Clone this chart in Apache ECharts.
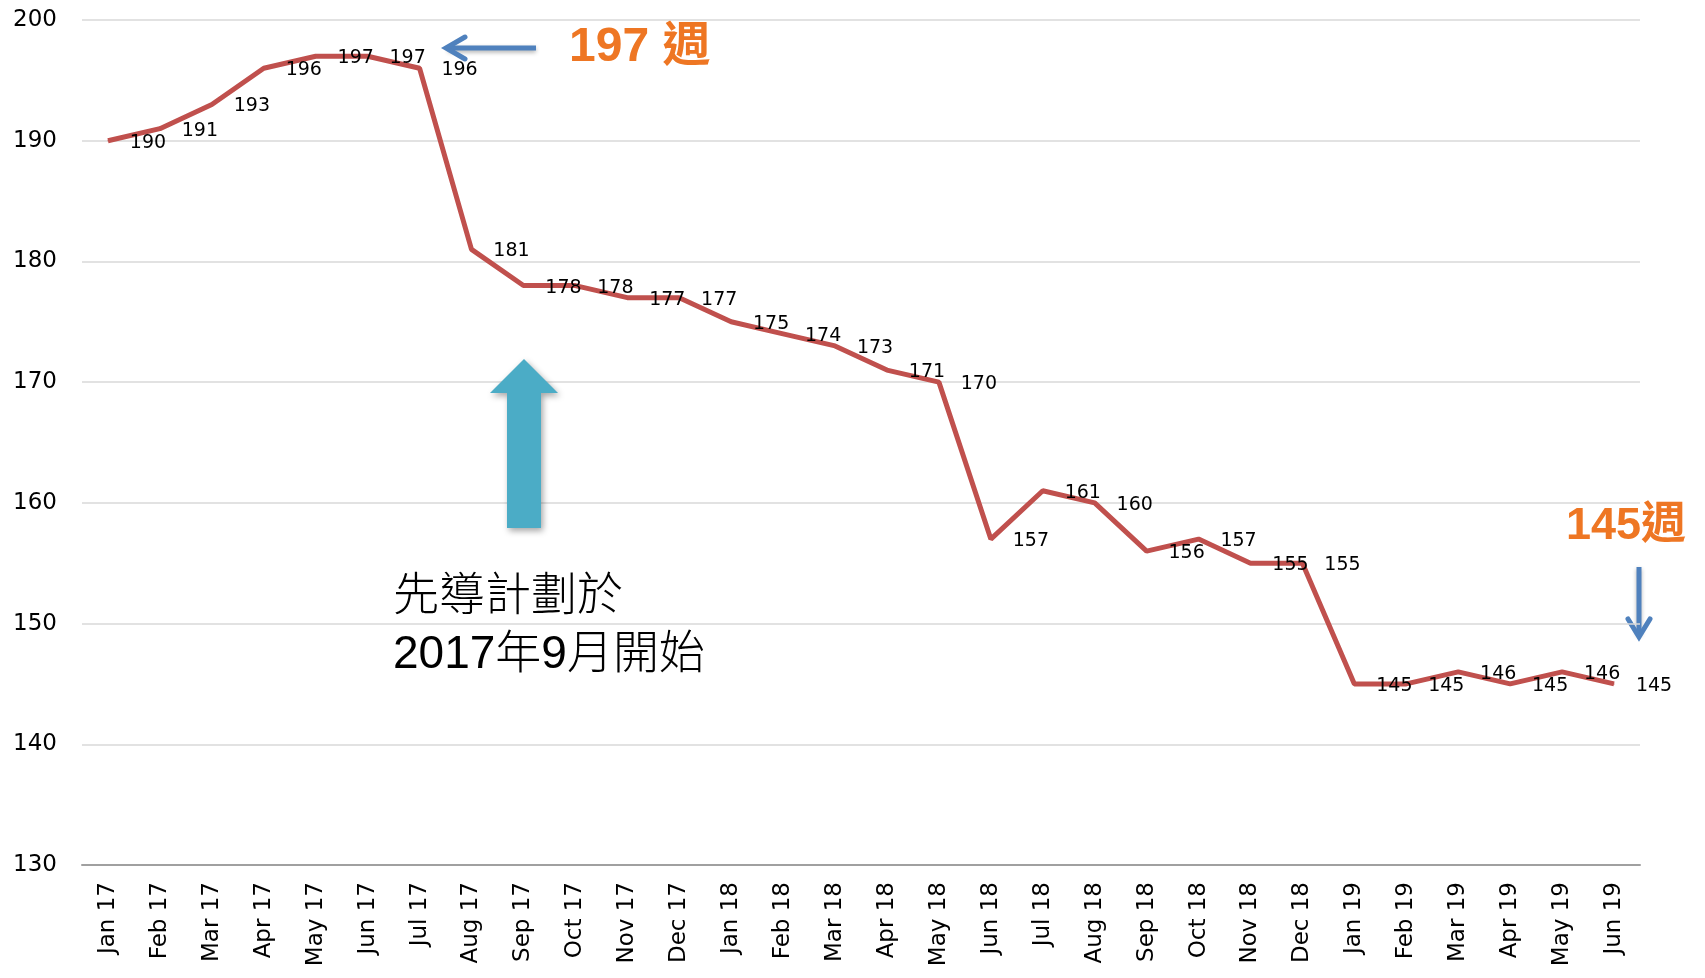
<!DOCTYPE html>
<html>
<head>
<meta charset="utf-8">
<style>
  html, body { margin: 0; padding: 0; background: #fff; }
  #chart { width: 1705px; height: 978px; }
</style>
<script src="https://cdn.jsdelivr.net/npm/echarts@6/dist/echarts.min.js"></script>
</head>
<body>
<div id="chart"></div>
<script>
// 月份
const months = [
  'Jan 17', 'Feb 17', 'Mar 17', 'Apr 17', 'May 17', 'Jun 17', 'Jul 17', 'Aug 17', 'Sep 17', 'Oct 17',
  'Nov 17', 'Dec 17', 'Jan 18', 'Feb 18', 'Mar 18', 'Apr 18', 'May 18', 'Jun 18', 'Jul 18', 'Aug 18',
  'Sep 18', 'Oct 18', 'Nov 18', 'Dec 18', 'Jan 19', 'Feb 19', 'Mar 19', 'Apr 19', 'May 19', 'Jun 19'
];
// 週數
const weeks = [
  190, 191, 193, 196, 197, 197, 196, 181, 178, 178,
  177, 177, 175, 174, 173, 171, 170, 157, 161, 160,
  156, 157, 155, 155, 145, 145, 146, 145, 146, 145
];
const yTicks = [130, 140, 150, 160, 170, 180, 190, 200];

const LABEL_FONT = '"DejaVu Sans", "Noto Sans", sans-serif';
const CJK_FONT = '"Liberation Sans", "Noto Sans CJK TC", sans-serif';
const ORANGE = '#EE7623';
const BLUE = '#4F81BD';
const TEAL = '#4BACC6';

const chart = echarts.init(document.getElementById('chart'));

chart.setOption({
  animation: false,
  grid: { left: 82, right: 65, top: 20, bottom: 113 },
  xAxis: {
    type: 'category',
    data: months,
    boundaryGap: true,
    axisLine: { lineStyle: { color: '#A0A0A0', width: 2 } },
    axisTick: { show: false },
    axisLabel: {
      rotate: 90,
      margin: 17,
      fontSize: 23,
      color: '#000',
      fontFamily: LABEL_FONT
    }
  },
  yAxis: {
    type: 'value',
    min: yTicks[0],
    max: yTicks[yTicks.length - 1],
    interval: 10,
    axisLine: { show: false },
    axisTick: { show: false },
    splitLine: { lineStyle: { color: '#D9D9D9', width: 1.5 } },
    axisLabel: {
      margin: 25,
      fontSize: 23,
      color: '#000',
      fontFamily: LABEL_FONT
    }
  },
  series: [{
    type: 'line',
    data: weeks,
    symbol: 'circle',
    symbolSize: 1,
    showSymbol: true,
    itemStyle: { color: '#C0504D' },
    lineStyle: { color: '#C0504D', width: 5 },
    label: {
      show: true,
      position: 'inside',
      offset: [40, 2],
      fontSize: 19,
      color: '#000',
      fontFamily: LABEL_FONT
    }
  }],
  graphic: [
    // 197 週 箭頭
    {
      type: 'group',
      z: 100,
      children: [
        {
          type: 'line',
          shape: { x1: 536, y1: 48, x2: 448, y2: 48 },
          style: { stroke: BLUE, lineWidth: 5, shadowBlur: 4, shadowOffsetY: 2, shadowColor: 'rgba(0,0,0,0.3)' }
        },
        {
          type: 'polyline',
          shape: { points: [[465, 37], [446, 48], [465, 59]] },
          style: { stroke: BLUE, lineWidth: 5, fill: null, lineCap: 'round', lineJoin: 'miter' }
        }
      ]
    },
    {
      type: 'text',
      left: 569,
      top: 24,
      z: 100,
      style: {
        text: '197 週',
        fill: ORANGE,
        font: 'bold 48px ' + CJK_FONT
      }
    },
    // 145週
    {
      type: 'text',
      left: 1566,
      top: 504,
      z: 100,
      style: {
        text: '145週',
        fill: ORANGE,
        font: 'bold 45px ' + CJK_FONT
      }
    },
    {
      type: 'group',
      z: 100,
      children: [
        {
          type: 'line',
          shape: { x1: 1639, y1: 567, x2: 1639, y2: 634 },
          style: { stroke: BLUE, lineWidth: 5, shadowBlur: 4, shadowOffsetY: 2, shadowColor: 'rgba(0,0,0,0.3)' }
        },
        {
          type: 'polyline',
          shape: { points: [[1628, 619], [1639, 637], [1650, 619]] },
          style: { stroke: BLUE, lineWidth: 5, fill: null, lineCap: 'round' }
        }
      ]
    },
    // 先導計劃 大箭頭
    {
      type: 'polygon',
      z: 100,
      shape: {
        points: [[524, 359], [558, 393], [541, 393], [541, 528], [507, 528], [507, 393], [490, 393]]
      },
      style: { fill: TEAL, shadowBlur: 6, shadowOffsetX: 2, shadowOffsetY: 3, shadowColor: 'rgba(0,0,0,0.35)' }
    },
    {
      type: 'text',
      left: 393,
      top: 568,
      z: 100,
      style: {
        text: '先導計劃於\n2017年9月開始',
        fill: '#000',
        font: '300 46px ' + CJK_FONT,
        lineHeight: 58
      }
    }
  ]
});
</script>
</body>
</html>
